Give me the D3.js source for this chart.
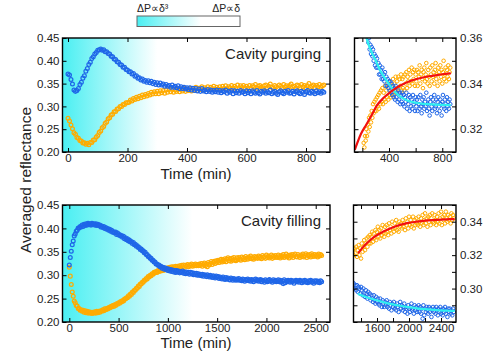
<!DOCTYPE html>
<html><head><meta charset="utf-8">
<script src="https://cdn.jsdelivr.net/npm/d3@7"></script>
<style>body{margin:0;background:#fff}svg{display:block}text{font-family:"Liberation Sans",Arial,Helvetica,sans-serif}</style>
</head><body><svg id="c" width="491" height="355"></svg>
<script>
// ---------- DATA ----------
// Cavity purging: samples every 5 min from 0 to 860 min
const purgeTimeStart = 0, purgeTimeStep = 5;
const purgeBlue = [
0.371,0.369,0.359,0.349,0.336,0.333,0.335,0.339,0.348,0.353,
0.362,0.367,0.377,0.383,0.392,0.397,0.405,0.409,0.415,0.418,
0.423,0.424,0.426,0.423,0.424,0.420,0.420,0.416,0.415,0.410,
0.409,0.404,0.403,0.398,0.397,0.392,0.391,0.386,0.386,0.381,
0.380,
0.376,0.376,0.371,0.372,0.366,0.367,0.362,0.363,0.358,0.360,0.355,0.357,
0.353,0.356,0.352,0.355,0.350,0.353,0.348,0.352,
0.347,0.351,0.347,0.349,0.344,0.348,0.344,0.346,0.342,0.347,0.342,0.344,0.341,0.345,0.339,0.343,0.339,0.342,0.338,0.341,
0.337,0.341,0.336,0.340,0.335,0.339,0.334,0.338,0.333,0.339,0.334,0.336,0.332,0.337,0.333,0.336,0.331,0.335,0.332,0.336,
0.331,0.335,0.330,0.334,0.332,0.336,0.329,0.333,0.331,0.335,0.328,0.334,0.330,0.333,0.329,0.335,0.331,0.332,0.328,0.334,
0.330,0.333,0.328,0.334,0.331,0.329,0.335,0.330,0.327,0.333,
0.331,0.334,0.329,0.332,0.330,0.336,0.328,0.331,0.333,0.329,
0.326,0.332,0.334,0.330,0.328,0.333,0.331,0.335,0.329,0.330,
0.333,0.327,0.332,0.334,0.330,0.328,0.333,0.331,0.326,0.332,
0.335,0.330,0.329,0.333,0.331,0.328,0.334,0.330,0.332,0.329,
0.333,0.331];
const purgeOrange = [
0.274,0.268,0.259,0.251,0.242,0.239,0.232,0.230,0.225,0.224,
0.220,0.220,0.217,0.219,0.216,0.221,0.221,0.226,0.227,0.233,
0.236,0.243,0.246,0.253,0.256,0.263,0.266,0.273,0.275,0.281,
0.283,0.288,0.289,0.294,0.295,0.300,0.300,0.304,0.304,0.308,
0.308,
0.309,0.314,0.312,0.317,0.315,0.320,0.317,0.322,0.319,0.325,0.321,0.326,0.323,0.328,0.325,0.331,0.327,0.332,0.328,0.333,
0.328,0.334,0.330,0.335,0.329,0.336,0.331,0.337,0.332,0.338,0.331,0.336,0.333,0.339,0.332,0.337,0.334,0.340,0.333,0.338,
0.335,0.340,0.334,0.339,0.336,0.342,0.335,0.340,0.337,0.343,0.336,0.341,0.338,0.343,0.336,0.342,0.339,0.344,0.337,0.342,
0.338,0.343,0.337,0.344,0.340,0.345,0.338,0.343,0.341,0.346,0.339,0.344,0.341,0.347,0.340,0.345,0.342,0.346,0.339,0.344,
0.341,0.346,0.339,0.345,0.343,0.348,0.340,0.344,0.346,0.342,
0.338,0.345,0.347,0.341,0.344,0.349,0.342,0.340,0.346,0.343,
0.339,0.347,0.344,0.341,0.348,0.343,0.345,0.340,0.346,0.349,
0.342,0.344,0.339,0.347,0.345,0.341,0.348,0.343,0.346,0.340,
0.345,0.350,0.342,0.344,0.347,0.341,0.346,0.343,0.348,0.342,
0.345,0.347];

// Cavity filling: samples every 10 min from 0 to 2560 min
const fillTimeStart = 0, fillTimeStep = 10;
const fillBlue = [
0.322,0.338,0.351,0.365,0.373,0.384,0.388,0.394,0.396,0.401,0.401,0.404,0.403,
0.407,0.404,0.409,0.406,0.410,0.407,0.411,0.408,0.410,0.407,0.411,0.408,0.410,0.407,0.410,0.406,0.409,0.406,
0.407,0.403,0.405,0.402,0.404,0.400,0.402,0.398,0.400,0.396,0.398,0.394,0.396,0.392,0.393,0.390,0.392,0.387,0.390,0.386,
0.387,0.384,0.385,0.381,0.383,0.378,0.380,0.376,0.378,0.373,0.375,0.371,0.372,0.368,0.370,0.365,0.366,0.362,0.363,0.359,
0.359,0.355,0.356,0.352,0.352,0.348,0.349,0.344,0.344,0.340,0.340,0.336,0.336,0.332,0.332,0.328,0.328,0.324,0.324,0.321,
0.322,0.318,0.319,0.315,0.317,0.313,0.316,0.312,0.314,0.310,0.313,0.309,0.312,0.308,0.311,0.307,0.310,0.306,0.310,0.307,
0.309,0.305,0.308,0.306,0.309,0.304,0.307,0.303,0.307,0.304,0.306,0.302,0.306,0.303,0.305,0.301,0.304,0.301,0.304,0.300,
0.303,0.300,0.302,0.299,0.302,0.298,0.301,0.300,0.297,0.301,0.299,0.296,0.300,0.297,0.295,0.299,0.297,0.294,0.298,0.295,
0.297,0.293,0.296,0.294,0.292,0.296,0.293,0.291,0.295,0.292,0.294,0.291,0.290,0.294,0.292,0.289,0.293,0.291,0.289,0.292,
0.290,0.293,0.289,0.291,0.288,0.292,0.290,0.287,0.291,0.289,0.292,0.288,0.290,0.287,0.291,0.289,0.286,0.290,0.292,0.288,
0.290,0.287,0.289,0.291,0.286,0.289,0.288,0.285,0.290,0.288,0.286,0.289,0.291,0.287,0.288,0.285,0.290,0.287,0.289,0.286,
0.288,0.290,0.286,0.289,0.285,0.288,0.282,0.290,0.284,0.288,0.286,0.289,0.287,0.285,0.289,0.286,0.288,0.283,0.287,0.289,
0.286,0.288,0.285,0.289,0.287,0.284,0.288,0.286,0.289,0.285,0.287,0.284,0.288,0.286,0.289,0.285,0.287,0.283,0.288,0.286,
0.288,0.285,0.287,0.284,0.288,0.286];
const fillOrange = [
0.317,0.298,0.280,0.264,0.255,0.245,0.241,0.235,0.234,0.229,0.229,0.225,0.226,
0.223,0.225,0.221,0.224,0.220,0.223,0.219,0.222,0.219,0.221,0.218,0.221,0.219,0.222,0.219,0.223,0.220,0.223,
0.221,0.224,0.223,0.226,0.224,0.228,0.226,0.229,0.228,0.231,0.230,0.233,0.232,0.235,0.233,0.237,0.235,0.239,0.238,0.241,
0.240,0.244,0.243,0.246,0.245,0.249,0.249,0.252,0.252,0.256,0.255,0.260,0.259,0.264,0.263,0.268,0.268,0.272,0.272,0.277,
0.276,0.281,0.281,0.285,0.285,0.289,0.289,0.293,0.292,0.297,0.296,0.300,0.299,0.303,0.302,0.306,0.305,0.308,0.306,0.310,
0.308,0.311,0.309,0.313,0.310,0.314,0.311,0.315,0.312,0.316,0.313,0.317,0.314,0.318,0.315,0.318,0.315,0.319,0.316,0.319,
0.316,0.320,0.317,0.321,0.318,0.322,0.317,0.321,0.319,0.323,0.318,0.322,0.320,0.324,0.319,0.323,0.320,0.324,0.320,0.323,
0.320,0.324,0.321,0.325,0.319,0.323,0.326,0.320,0.324,0.318,0.327,0.322,0.325,0.329,0.323,0.327,0.330,0.325,0.331,0.327,
0.332,0.327,0.331,0.334,0.328,0.333,0.330,0.335,0.329,0.334,0.337,0.331,0.335,0.330,0.336,0.332,0.338,0.333,0.331,0.337,
0.333,0.338,0.334,0.332,0.339,0.335,0.337,0.333,0.340,0.336,0.334,0.339,0.336,0.341,0.335,0.338,0.334,0.340,0.337,0.339,
0.336,0.341,0.337,0.339,0.335,0.342,0.338,0.340,0.336,0.343,0.338,0.341,0.337,0.339,0.343,0.336,0.341,0.338,0.342,0.339,
0.338,0.343,0.340,0.337,0.342,0.339,0.344,0.338,0.341,0.345,0.339,0.342,0.337,0.343,0.340,0.344,0.338,0.342,0.345,0.340,
0.339,0.344,0.341,0.338,0.343,0.340,0.345,0.339,0.342,0.346,0.338,0.343,0.341,0.344,0.339,0.346,0.342,0.340,0.344,0.341,
0.343,0.339,0.345,0.341,0.344,0.342];

// Exponential fits shown in the zoomed panels: [time, value]
const purgeBlueFit = [[220,0.3625],[233,0.3596],[260,0.3550],[295,0.3508],[330,0.3462],[357,0.3435],[400,0.3398],[432,0.3372],[480,0.3345],[533,0.3327],[600,0.3316],[657,0.3311],[750,0.3308],[858,0.3306]];
const purgeOrangeFit = [[145,0.3113],[190,0.3180],[233,0.3223],[270,0.3262],[308,0.3303],[360,0.3338],[408,0.3362],[460,0.3383],[508,0.3398],[560,0.3411],[608,0.3420],[670,0.3429],[733,0.3435],[800,0.3441],[858,0.3445]];
const fillBlueFit = [[1370,0.2966],[1470,0.2948],[1574,0.2933],[1680,0.2918],[1784,0.2907],[1890,0.2897],[1991,0.2889],[2100,0.2882],[2199,0.2877],[2350,0.2871],[2511,0.2867],[2560,0.2866]];
const fillOrangeFit = [[1370,0.3215],[1420,0.3245],[1472,0.3271],[1570,0.3311],[1679,0.3341],[1780,0.3363],[1887,0.3381],[1990,0.3393],[2095,0.3400],[2200,0.3406],[2302,0.3410],[2400,0.3413],[2511,0.3415],[2560,0.3416]];

// Ticks
const mainYTicks = [0.20,0.25,0.30,0.35,0.40,0.45];
const purgeXTicks = [0,200,400,600,800];
const fillXTicks = [0,500,1000,1500,2000,2500];
const purgeZoomXTicks = [200,400,600,800];
const purgeZoomXLabels = [400,800];
const purgeZoomYTicks = [0.31,0.32,0.33,0.34,0.35,0.36];
const purgeZoomYLabels = [0.32,0.34,0.36];
const fillZoomXTicks = [1400,1600,1800,2000,2200,2400];
const fillZoomXLabels = [1600,2000,2400];
const fillZoomYTicks = [0.28,0.29,0.30,0.31,0.32,0.33,0.34,0.35];
const fillZoomYLabels = [0.30,0.32,0.34];

// Text
const panelTitles = ["Cavity purging","Cavity filling"];
const xTitle = "Time (min)";
const yTitle = "Averaged reflectance";
const legendLeft = "ΔP∝δ³", legendRight = "ΔP∝δ";

// ---------- STYLE ----------
const FONT = "Liberation Sans, Arial, Helvetica, sans-serif";
const BLUE = "#1f66e8", ORANGE = "#ffab00", RED = "#f21010", CYAN = "#2ff0f0", GRAD = "#4aeff2", TXT = "#222";

const svg = d3.select("#c");
const defs = svg.append("defs");

function toPoints(arr, start, step){ return arr.map((v,i)=>({t:start+i*step, v})); }
const purgeB = toPoints(purgeBlue, purgeTimeStart, purgeTimeStep);
const purgeO = toPoints(purgeOrange, purgeTimeStart, purgeTimeStep);
const fillB = toPoints(fillBlue, fillTimeStart, fillTimeStep);
const fillO = toPoints(fillOrange, fillTimeStart, fillTimeStep);

let clipId = 0, gradId = 0;
function panel(o){
  const x = d3.scaleLinear().domain(o.xd).range([o.x0,o.x1]);
  const y = d3.scaleLinear().domain(o.yd).range([o.y1,o.y0]);
  const g = svg.append("g");
  const cid = "clip"+(clipId++);
  defs.append("clipPath").attr("id",cid).append("rect")
    .attr("x",o.x0).attr("y",o.y0).attr("width",o.x1-o.x0).attr("height",o.y1-o.y0);
  if(o.gradEnd!==undefined){
    const gid="grad"+(gradId++);
    const lg = defs.append("linearGradient").attr("id",gid).attr("gradientUnits","userSpaceOnUse")
      .attr("x1",o.x0).attr("x2",x(o.gradEnd)).attr("y1",0).attr("y2",0);
    lg.append("stop").attr("offset",0).attr("stop-color",GRAD);
    lg.append("stop").attr("offset",1).attr("stop-color","#ffffff");
    g.append("rect").attr("x",o.x0).attr("y",o.y0).attr("width",o.x1-o.x0).attr("height",o.y1-o.y0)
      .attr("fill","url(#"+gid+")");
  }
  const d = g.append("g").attr("clip-path","url(#"+cid+")");
  o.series.forEach(s=>{
    d.append("g").selectAll("circle").data(s.data.filter(p=>p.t>=o.xd[0]-20&&p.t<=o.xd[1]+20)).join("circle")
      .attr("cx",p=>x(p.t)).attr("cy",p=>y(p.v)).attr("r",o.r)
      .attr("fill","none").attr("stroke",s.color).attr("stroke-width",o.sw);
  });
  (o.fits||[]).forEach(f=>{
    d.append("path").datum(f.data).attr("fill","none").attr("stroke",f.color).attr("stroke-width",2.2)
      .attr("stroke-linecap","round")
      .attr("d", d3.line().x(p=>x(p[0])).y(p=>y(p[1])).curve(d3.curveMonotoneX));
  });
  // axes
  const fmtX = o.xLabels ? (v=> o.xLabels.includes(v)? String(v):"") : (v=>String(v));
  const fmtY = o.yLabels ? (v=> o.yLabels.some(l=>Math.abs(l-v)<1e-9)? d3.format(".2f")(v):"") : d3.format(".2f");
  const ax = [];
  ax.push(g.append("g").attr("transform",`translate(0,${o.y1})`).call(d3.axisBottom(x).tickValues(o.xt).tickSize(-4).tickPadding(2).tickFormat(fmtX)));
  ax.push(g.append("g").attr("transform",`translate(0,${o.y0})`).call(d3.axisTop(x).tickValues(o.xt).tickSize(-4).tickFormat("")));
  if(o.yRight){
    ax.push(g.append("g").attr("transform",`translate(${o.x1},0)`).call(d3.axisRight(y).tickValues(o.yt).tickSize(-4).tickPadding(4).tickFormat(fmtY)));
    ax.push(g.append("g").attr("transform",`translate(${o.x0},0)`).call(d3.axisLeft(y).tickValues(o.yt).tickSize(-4).tickFormat("")));
  } else {
    ax.push(g.append("g").attr("transform",`translate(${o.x0},0)`).call(d3.axisLeft(y).tickValues(o.yt).tickSize(-4).tickPadding(3).tickFormat(fmtY)));
    ax.push(g.append("g").attr("transform",`translate(${o.x1},0)`).call(d3.axisRight(y).tickValues(o.yt).tickSize(-4).tickFormat("")));
  }
  ax.forEach(a=>{
    a.attr("font-family",FONT);
    a.select(".domain").remove();
    a.selectAll(".tick line").attr("stroke","#000").attr("stroke-width",1);
    a.selectAll(".tick text").attr("font-size",11.5).attr("fill",TXT).attr("font-family",FONT);
  });
  g.append("rect").attr("x",o.x0).attr("y",o.y0).attr("width",o.x1-o.x0).attr("height",o.y1-o.y0)
    .attr("fill","none").attr("stroke","#000").attr("stroke-width",1.4);
  if(o.title){
    g.append("text").attr("x",o.x1-9).attr("y",o.y0+21).attr("text-anchor","end").attr("font-family",FONT)
      .attr("font-size",15).attr("fill",TXT).text(o.title);
  }
  return {x,y,g};
}

// Top-left: cavity purging
panel({x0:62.5,x1:330,y0:38,y1:152,xd:[-18.5,880.7],yd:[0.20,0.45],xt:purgeXTicks,yt:mainYTicks,
  gradEnd:300, title:panelTitles[0], r:1.9, sw:1.25,
  series:[{data:purgeO,color:ORANGE},{data:purgeB,color:BLUE}]});
// Top-right zoom
panel({x0:354.5,x1:456,y0:38,y1:152,xd:[141,903],yd:[0.31,0.36],xt:purgeZoomXTicks,xLabels:purgeZoomXLabels,
  yt:purgeZoomYTicks,yLabels:purgeZoomYLabels,yRight:true, r:1.8, sw:1,
  series:[{data:purgeO,color:ORANGE},{data:purgeB,color:BLUE}],
  fits:[{data:purgeBlueFit,color:CYAN},{data:purgeOrangeFit,color:RED}]});
// Bottom-left: cavity filling
panel({x0:62.5,x1:330,y0:205,y1:322,xd:[-69,2645],yd:[0.20,0.45],xt:fillXTicks,yt:mainYTicks,
  gradEnd:1250, title:panelTitles[1], r:1.9, sw:1.25,
  series:[{data:fillO,color:ORANGE},{data:fillB,color:BLUE}]});
// Bottom-right zoom
panel({x0:353.5,x1:456,y0:205,y1:322,xd:[1306,2587],yd:[0.28,0.35],xt:fillZoomXTicks,xLabels:fillZoomXLabels,
  yt:fillZoomYTicks,yLabels:fillZoomYLabels,yRight:true, r:1.8, sw:1,
  series:[{data:fillO,color:ORANGE},{data:fillB,color:BLUE}],
  fits:[{data:fillBlueFit,color:CYAN},{data:fillOrangeFit,color:RED}]});

// Axis titles
svg.append("text").attr("x",196).attr("y",179).attr("text-anchor","middle").attr("font-family",FONT).attr("font-size",15).attr("fill",TXT).text(xTitle);
svg.append("text").attr("x",196).attr("y",348).attr("text-anchor","middle").attr("font-family",FONT).attr("font-size",15).attr("fill",TXT).text(xTitle);
svg.append("text").attr("transform","translate(31,180) rotate(-90)").attr("text-anchor","middle").attr("font-family",FONT).attr("font-size",15.5).attr("fill",TXT).text(yTitle);

// Colour-bar legend
const lgId="legGrad";
const lg = defs.append("linearGradient").attr("id",lgId).attr("x1",0).attr("x2",1).attr("y1",0).attr("y2",0);
lg.append("stop").attr("offset",0).attr("stop-color",GRAD);
lg.append("stop").attr("offset",0.62).attr("stop-color","#ffffff");
lg.append("stop").attr("offset",1).attr("stop-color","#ffffff");
svg.append("rect").attr("x",137).attr("y",16).attr("width",103).attr("height",10.5)
  .attr("fill","url(#"+lgId+")").attr("stroke","#666").attr("stroke-width",1);
svg.append("text").attr("x",137).attr("y",11.5).attr("font-family",FONT).attr("font-size",10.5).attr("fill",TXT).text(legendLeft);
svg.append("text").attr("x",240).attr("y",11.5).attr("text-anchor","end").attr("font-family",FONT).attr("font-size",10.5).attr("fill",TXT).text(legendRight);
</script></body></html>
